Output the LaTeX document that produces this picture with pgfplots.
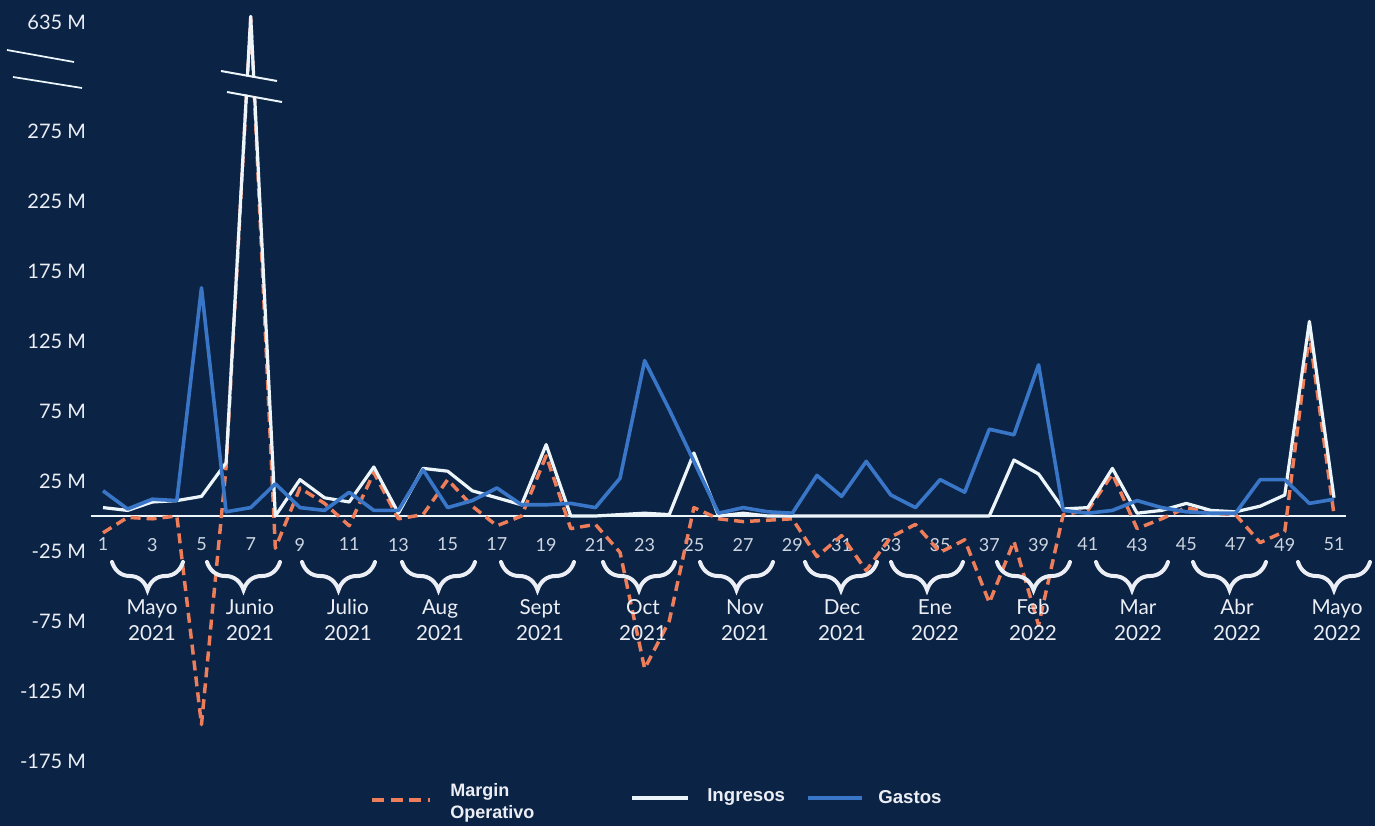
\documentclass[border=0pt]{standalone}
\usepackage{fontspec}
\setmainfont{Lato}
\newfontfamily\legfont{Liberation Sans}
\usepackage{pgfplots}
\usepackage{pgfplotstable}
\pgfplotsset{compat=1.18}
\usetikzlibrary{decorations.pathreplacing}
\definecolor{bg}{RGB}{11,35,68}
\definecolor{gastos}{RGB}{58,118,200}
\definecolor{margen}{RGB}{238,125,90}
\definecolor{ingresos}{RGB}{236,245,250}
\definecolor{ticktxt}{RGB}{205,213,225}
\definecolor{labtxt}{RGB}{236,238,245}
\newcommand\PX[2]{({(#1)*0.75pt},{(826-(#2))*0.75pt})}

% week, Ingresos (M), Gastos (M), Margin Operativo (M)
\pgfplotstableread{
w ing gas mar
1 6 18 -12
2 4 5 -1
3 10 12 -2
4 11 11 0
5 14 163 -149
6 38 3 35
7 660 6 654
8 0 23 -23
9 26 6 20
10 13 4 9
11 10 17 -7
12 35 4 31
13 2 4 -2
14 34 33 1
15 32 6 26
16 18 11 7
17 13 20 -7
18 8 8 0
19 51 8 43
20 0 9 -9
21 0 6 -6
22 1 27 -26
23 2 111 -109
24 1 76 -75
25 45 39 6
26 0 2 -2
27 2 6 -4
28 0 3 -3
29 0 2 -2
30 0 29 -29
31 0 14 -14
32 0 39 -39
33 0 15 -15
34 0 6 -6
35 0 26 -26
36 0 17 -17
37 0 62 -62
38 40 58 -18
39 30 108 -78
40 5 4 1
41 6 2 4
42 34 4 30
43 2 11 -9
44 4 6 -2
45 9 3 6
46 4 2 2
47 3 2 1
48 7 26 -19
49 15 26 -11
50 139 9 130
51 13 12 1
}\datatable

\begin{document}
\begin{tikzpicture}
\fill[bg] (0,0) rectangle (1031.25pt,619.5pt);
\begin{axis}[
  at={(68.0175pt,22.5pt)}, anchor=south west,
  x=18.465pt, y=1.05pt,
  xmin=0.5, xmax=51.5, ymin=-200, ymax=711,
  y coord trafo/.code={\pgfmathparse{#1>300 ? 300+(#1-300)*0.158 : #1}},
  y coord inv trafo/.code={\pgfmathparse{#1>300 ? 300+(#1-300)/0.158 : #1}},
  axis x line=middle, axis y line=left,
  axis line style={-},
  y axis line style={draw=none},
  x axis line style={draw=ingresos, line width=1.2pt},
  major tick length=0pt,
  /pgf/number format/assume math mode=true,
  xtick={1,3,...,51},
  ytick={-175,-125,-75,-25,25,75,125,175,225,275,635},
  yticklabels={-175 M,-125 M,-75 M,-25 M,25 M,75 M,125 M,175 M,225 M,275 M,635 M},
  yticklabel style={font=\fontsize{15}{18}\selectfont, text=labtxt},
  xticklabel style={font=\fontsize{13.5}{16}\selectfont, text=ticktxt, yshift=-13pt},
  clip=false,
]
\addplot[margen, line width=2.6pt, line join=round, dash pattern=on 7.5pt off 4.5pt] table[x=w, y=mar] {\datatable};
\addplot[ingresos, line width=2.4pt, line join=round] table[x=w, y=ing] {\datatable};
\addplot[gastos, line width=2.7pt, line join=round] table[x=w, y=gas] {\datatable};
\end{axis}

% axis breaks
\draw[ingresos, line width=1.3pt] \PX{7}{50} -- \PX{74}{62};
\draw[ingresos, line width=1.3pt] \PX{13}{77} -- \PX{82}{88};
\fill[bg] \PX{221}{72} -- \PX{277}{82} -- \PX{282}{101} -- \PX{227}{91} -- cycle;
\draw[ingresos, line width=1.5pt] \PX{221}{71} -- \PX{277}{81};
\draw[ingresos, line width=1.5pt] \PX{227}{92} -- \PX{282}{102};

% month braces and labels
\foreach \a/\b/\c/\m/\y in {112/183/152/Mayo/2021, 207/280/250/Junio/2021, 302/375/348/Julio/2021,
  402/475/440/Aug/2021, 501/574/540/Sept/2021, 603/675/643/Oct/2021, 700/773/745/Nov/2021,
  805/877/842/Dec/2021, 891/963/935/Ene/2022, 997/1070/1033/Feb/2022, 1096/1168/1138/Mar/2022,
  1193/1266/1237/Abr/2022, 1298/1370/1337/Mayo/2022}{
  \draw[labtxt, line width=3pt, line cap=round, decorate, decoration={brace, mirror, amplitude=21pt}]
    \PX{\a}{562} -- \PX{\b}{562};
  \node[text=labtxt, font=\fontsize{15.5}{19.5}\selectfont, align=center] at \PX{\c}{620} {\m\\\y};
}

% legend
\draw[margen, line width=3pt, dash pattern=on 9pt off 5pt] \PX{372}{800} -- \PX{430}{800};
\node[anchor=west, align=left, text=labtxt, font=\legfont\bfseries\fontsize{13.5}{17}\selectfont, inner sep=0pt] at \PX{450}{803} {Margin\\Operativo};
\draw[ingresos, line width=3pt] \PX{632}{798} -- \PX{688}{798};
\node[anchor=west, text=labtxt, font=\legfont\bfseries\fontsize{14}{16}\selectfont, inner sep=0pt] at \PX{707}{797} {Ingresos};
\draw[gastos, line width=3pt] \PX{808}{798} -- \PX{862}{798};
\node[anchor=west, text=labtxt, font=\legfont\bfseries\fontsize{14}{16}\selectfont, inner sep=0pt] at \PX{878}{797} {Gastos};

\pgfresetboundingbox
\path (0,0) rectangle (1031.25pt,619.5pt);
\end{tikzpicture}
\end{document}
